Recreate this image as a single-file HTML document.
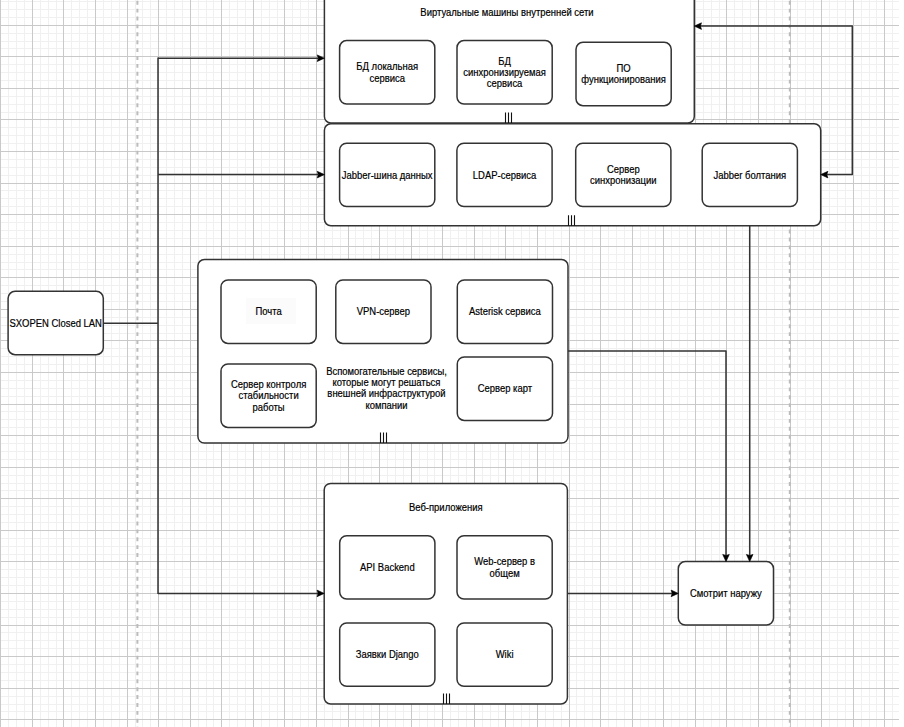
<!DOCTYPE html>
<html><head><meta charset="utf-8"><style>
html,body{margin:0;padding:0;background:#fff;width:904px;height:727px;overflow:hidden}
svg{display:block}
text{font-family:"Liberation Sans",sans-serif;font-size:9.47px;fill:#000;stroke:#000;stroke-width:0.18px;text-anchor:middle}
</style></head><body>
<svg width="904" height="727" viewBox="0 0 904 727">
<path d="M8.5 0V727M16.5 0V727M24.5 0V727M40.5 0V727M48.5 0V727M56.5 0V727M71.5 0V727M79.5 0V727M87.5 0V727M103.5 0V727M111.5 0V727M119.5 0V727M135.5 0V727M142.5 0V727M150.5 0V727M166.5 0V727M174.5 0V727M182.5 0V727M198.5 0V727M206.5 0V727M213.5 0V727M229.5 0V727M237.5 0V727M245.5 0V727M261.5 0V727M269.5 0V727M277.5 0V727M292.5 0V727M300.5 0V727M308.5 0V727M324.5 0V727M332.5 0V727M340.5 0V727M355.5 0V727M363.5 0V727M371.5 0V727M387.5 0V727M395.5 0V727M403.5 0V727M419.5 0V727M427.5 0V727M434.5 0V727M450.5 0V727M458.5 0V727M466.5 0V727M482.5 0V727M490.5 0V727M498.5 0V727M513.5 0V727M521.5 0V727M529.5 0V727M545.5 0V727M553.5 0V727M561.5 0V727M576.5 0V727M584.5 0V727M592.5 0V727M608.5 0V727M616.5 0V727M624.5 0V727M640.5 0V727M648.5 0V727M655.5 0V727M671.5 0V727M679.5 0V727M687.5 0V727M703.5 0V727M711.5 0V727M719.5 0V727M734.5 0V727M742.5 0V727M750.5 0V727M766.5 0V727M774.5 0V727M782.5 0V727M797.5 0V727M805.5 0V727M813.5 0V727M829.5 0V727M837.5 0V727M845.5 0V727M861.5 0V727M869.5 0V727M876.5 0V727M892.5 0V727M0 1.5H899M0 9.5H899M0 17.5H899M0 33.5H899M0 41.5H899M0 48.5H899M0 64.5H899M0 72.5H899M0 80.5H899M0 96.5H899M0 104.5H899M0 112.5H899M0 127.5H899M0 135.5H899M0 143.5H899M0 159.5H899M0 167.5H899M0 175.5H899M0 190.5H899M0 198.5H899M0 206.5H899M0 222.5H899M0 230.5H899M0 238.5H899M0 254.5H899M0 262.5H899M0 269.5H899M0 285.5H899M0 293.5H899M0 301.5H899M0 317.5H899M0 325.5H899M0 333.5H899M0 348.5H899M0 356.5H899M0 364.5H899M0 380.5H899M0 388.5H899M0 396.5H899M0 411.5H899M0 419.5H899M0 427.5H899M0 443.5H899M0 451.5H899M0 459.5H899M0 475.5H899M0 483.5H899M0 490.5H899M0 506.5H899M0 514.5H899M0 522.5H899M0 538.5H899M0 546.5H899M0 554.5H899M0 569.5H899M0 577.5H899M0 585.5H899M0 601.5H899M0 609.5H899M0 617.5H899M0 632.5H899M0 640.5H899M0 648.5H899M0 664.5H899M0 672.5H899M0 680.5H899M0 696.5H899M0 704.5H899M0 711.5H899" stroke="#f0f0f0" stroke-width="1" fill="none"/>
<path d="M0.5 0V727M32.5 0V727M63.5 0V727M95.5 0V727M127.5 0V727M158.5 0V727M190.5 0V727M221.5 0V727M253.5 0V727M284.5 0V727M316.5 0V727M348.5 0V727M379.5 0V727M411.5 0V727M442.5 0V727M474.5 0V727M505.5 0V727M537.5 0V727M569.5 0V727M600.5 0V727M632.5 0V727M663.5 0V727M695.5 0V727M726.5 0V727M758.5 0V727M790.5 0V727M821.5 0V727M853.5 0V727M884.5 0V727M0 25.5H899M0 56.5H899M0 88.5H899M0 119.5H899M0 151.5H899M0 183.5H899M0 214.5H899M0 246.5H899M0 277.5H899M0 309.5H899M0 340.5H899M0 372.5H899M0 404.5H899M0 435.5H899M0 467.5H899M0 498.5H899M0 530.5H899M0 561.5H899M0 593.5H899M0 625.5H899M0 656.5H899M0 688.5H899M0 719.5H899" stroke="#c9c9c9" stroke-width="1" fill="none"/>
<path d="M137.4 0.8V727" stroke="#bcbcbc" stroke-width="2" stroke-dasharray="3.9 3.99" fill="none"/>
<path d="M789.8 0.8V727" stroke="#bcbcbc" stroke-width="2" stroke-dasharray="3.9 3.99" fill="none"/>
<path d="M103.4 323.3 L158 323.3" stroke="#333" stroke-width="1.5" stroke-linejoin="round" fill="none"/>
<path d="M158 57.5 L158 594" stroke="#333" stroke-width="1.5" stroke-linejoin="round" fill="none"/>
<path d="M158 58.2 L318 58.2" stroke="#333" stroke-width="1.5" stroke-linejoin="round" fill="none"/>
<path d="M158 174.6 L318 174.6" stroke="#333" stroke-width="1.5" stroke-linejoin="round" fill="none"/>
<path d="M158 593.4 L318 593.4" stroke="#333" stroke-width="1.5" stroke-linejoin="round" fill="none"/>
<path d="M568 351.1 L726 351.1 L726 556" stroke="#333" stroke-width="1.5" stroke-linejoin="round" fill="none"/>
<path d="M749.7 206.3 L749.7 556" stroke="#333" stroke-width="1.5" stroke-linejoin="round" fill="none"/>
<path d="M567.4 593.4 L672 593.4" stroke="#333" stroke-width="1.5" stroke-linejoin="round" fill="none"/>
<path d="M700 26.1 L852.3 26.1 L852.3 174.6 L827 174.6" stroke="#333" stroke-width="1.5" stroke-linejoin="round" fill="none"/>
<rect x="324.4" y="-30" width="369.90" height="153.00" rx="6.5" ry="6.5" fill="#fff" stroke="#333" stroke-width="1.5"/>
<text transform="translate(507.00 16.21) scale(1 1.1)">Виртуальные машины внутренней сети</text>
<rect x="324.4" y="123.7" width="496.30" height="102.10" rx="6.5" ry="6.5" fill="#fff" stroke="#333" stroke-width="1.5"/>
<rect x="197.9" y="259.5" width="370.10" height="183.60" rx="6.5" ry="6.5" fill="#fff" stroke="#333" stroke-width="1.5"/>
<rect x="324.2" y="483.4" width="243.20" height="220.60" rx="6.5" ry="6.5" fill="#fff" stroke="#333" stroke-width="1.5"/>
<text transform="translate(445.80 511.21) scale(1 1.1)">Веб-приложения</text>
<rect x="339.6" y="40.6" width="95.20" height="63.40" rx="7" ry="7" fill="#fff" stroke="#333" stroke-width="1.5"/>
<text transform="translate(387.20 70.33) scale(1 1.1)">БД локальная</text>
<text transform="translate(387.20 81.69) scale(1 1.1)">сервиса</text>
<rect x="457.0" y="40.6" width="95.20" height="63.40" rx="7" ry="7" fill="#fff" stroke="#333" stroke-width="1.5"/>
<text transform="translate(504.60 64.65) scale(1 1.1)">БД</text>
<text transform="translate(504.60 76.01) scale(1 1.1)">синхронизируемая</text>
<text transform="translate(504.60 87.37) scale(1 1.1)">сервиса</text>
<rect x="576.0" y="42.3" width="95.20" height="63.40" rx="7" ry="7" fill="#fff" stroke="#333" stroke-width="1.5"/>
<text transform="translate(623.60 72.03) scale(1 1.1)">ПО</text>
<text transform="translate(623.60 83.39) scale(1 1.1)">функционирования</text>
<path d="M505.5 112.50V123.00M508.5 112.50V123.00M511.5 112.50V123.00" stroke="#111" stroke-width="1.1" fill="none"/>
<rect x="339.6" y="143.2" width="95.20" height="63.40" rx="7" ry="7" fill="#fff" stroke="#333" stroke-width="1.5"/>
<text transform="translate(387.20 178.61) scale(1 1.1)">Jabber-шина данных</text>
<rect x="456.9" y="143.2" width="95.20" height="63.40" rx="7" ry="7" fill="#fff" stroke="#333" stroke-width="1.5"/>
<text transform="translate(504.50 178.61) scale(1 1.1)">LDAP-сервиса</text>
<rect x="575.7" y="143.2" width="95.20" height="63.40" rx="7" ry="7" fill="#fff" stroke="#333" stroke-width="1.5"/>
<text transform="translate(623.30 172.93) scale(1 1.1)">Сервер</text>
<text transform="translate(623.30 184.29) scale(1 1.1)">синхронизации</text>
<rect x="702.2" y="143.2" width="95.20" height="63.40" rx="7" ry="7" fill="#fff" stroke="#333" stroke-width="1.5"/>
<text transform="translate(749.80 178.61) scale(1 1.1)">Jabber болтания</text>
<path d="M568.5 215.30V225.80M571.5 215.30V225.80M574.5 215.30V225.80" stroke="#111" stroke-width="1.1" fill="none"/>
<rect x="221.0" y="280.0" width="95.20" height="63.40" rx="7" ry="7" fill="#fff" stroke="#333" stroke-width="1.5"/>
<rect x="246" y="298" width="50" height="26" fill="#fbfbfb"/>
<text transform="translate(268.60 315.41) scale(1 1.1)">Почта</text>
<rect x="335.8" y="280.0" width="95.20" height="63.40" rx="7" ry="7" fill="#fff" stroke="#333" stroke-width="1.5"/>
<text transform="translate(383.40 315.41) scale(1 1.1)">VPN-сервер</text>
<rect x="457.3" y="280.0" width="95.20" height="63.40" rx="7" ry="7" fill="#fff" stroke="#333" stroke-width="1.5"/>
<text transform="translate(504.90 315.41) scale(1 1.1)">Asterisk сервиса</text>
<rect x="221.0" y="364.0" width="95.20" height="63.40" rx="7" ry="7" fill="#fff" stroke="#333" stroke-width="1.5"/>
<text transform="translate(268.60 388.05) scale(1 1.1)">Сервер контроля</text>
<text transform="translate(268.60 399.41) scale(1 1.1)">стабильности</text>
<text transform="translate(268.60 410.77) scale(1 1.1)">работы</text>
<rect x="457.3" y="357.0" width="95.20" height="63.40" rx="7" ry="7" fill="#fff" stroke="#333" stroke-width="1.5"/>
<text transform="translate(504.90 392.41) scale(1 1.1)">Сервер карт</text>
<text transform="translate(386.50 374.67) scale(1 1.1)">Вспомогательные сервисы,</text>
<text transform="translate(386.50 386.03) scale(1 1.1)">которые могут решаться</text>
<text transform="translate(386.50 397.39) scale(1 1.1)">внешней инфраструктурой</text>
<text transform="translate(386.50 408.75) scale(1 1.1)">компании</text>
<path d="M380.5 432.60V443.10M383.5 432.60V443.10M386.5 432.60V443.10" stroke="#111" stroke-width="1.1" fill="none"/>
<rect x="339.7" y="535.7" width="95.20" height="63.40" rx="7" ry="7" fill="#fff" stroke="#333" stroke-width="1.5"/>
<text transform="translate(387.30 571.11) scale(1 1.1)">API Backend</text>
<rect x="457.0" y="535.7" width="95.20" height="63.40" rx="7" ry="7" fill="#fff" stroke="#333" stroke-width="1.5"/>
<text transform="translate(504.60 565.43) scale(1 1.1)">Web-сервер в</text>
<text transform="translate(504.60 576.79) scale(1 1.1)">общем</text>
<rect x="339.7" y="622.9" width="95.20" height="63.40" rx="7" ry="7" fill="#fff" stroke="#333" stroke-width="1.5"/>
<text transform="translate(387.30 658.31) scale(1 1.1)">Заявки Django</text>
<rect x="457.0" y="622.9" width="95.20" height="63.40" rx="7" ry="7" fill="#fff" stroke="#333" stroke-width="1.5"/>
<text transform="translate(504.60 658.31) scale(1 1.1)">Wiki</text>
<path d="M443.5 693.50V704.00M446.5 693.50V704.00M449.5 693.50V704.00" stroke="#111" stroke-width="1.1" fill="none"/>
<rect x="8.1" y="291.3" width="95.20" height="63.40" rx="7" ry="7" fill="#fff" stroke="#333" stroke-width="1.5"/>
<text transform="translate(55.70 326.71) scale(1 1.1)">SXOPEN Closed LAN</text>
<rect x="678.3" y="561.6" width="95.20" height="63.40" rx="7" ry="7" fill="#fff" stroke="#333" stroke-width="1.5"/>
<text transform="translate(725.90 597.01) scale(1 1.1)">Смотрит наружу</text>
<path d="M324.40 58.20 L317.20 54.90 L318.28 58.20 L317.20 61.50Z" fill="#000" stroke="#000" stroke-width="0.6" stroke-linejoin="miter"/>
<path d="M324.40 174.60 L317.20 171.30 L318.28 174.60 L317.20 177.90Z" fill="#000" stroke="#000" stroke-width="0.6" stroke-linejoin="miter"/>
<path d="M324.20 593.40 L317.00 590.10 L318.08 593.40 L317.00 596.70Z" fill="#000" stroke="#000" stroke-width="0.6" stroke-linejoin="miter"/>
<path d="M726.00 561.60 L722.70 554.40 L726.00 555.48 L729.30 554.40Z" fill="#000" stroke="#000" stroke-width="0.6" stroke-linejoin="miter"/>
<path d="M749.70 561.60 L746.40 554.40 L749.70 555.48 L753.00 554.40Z" fill="#000" stroke="#000" stroke-width="0.6" stroke-linejoin="miter"/>
<path d="M678.30 593.40 L671.10 590.10 L672.18 593.40 L671.10 596.70Z" fill="#000" stroke="#000" stroke-width="0.6" stroke-linejoin="miter"/>
<path d="M694.30 26.10 L701.50 22.80 L700.42 26.10 L701.50 29.40Z" fill="#000" stroke="#000" stroke-width="0.6" stroke-linejoin="miter"/>
<path d="M820.70 174.60 L827.90 171.30 L826.82 174.60 L827.90 177.90Z" fill="#000" stroke="#000" stroke-width="0.6" stroke-linejoin="miter"/>
</svg>
</body></html>
